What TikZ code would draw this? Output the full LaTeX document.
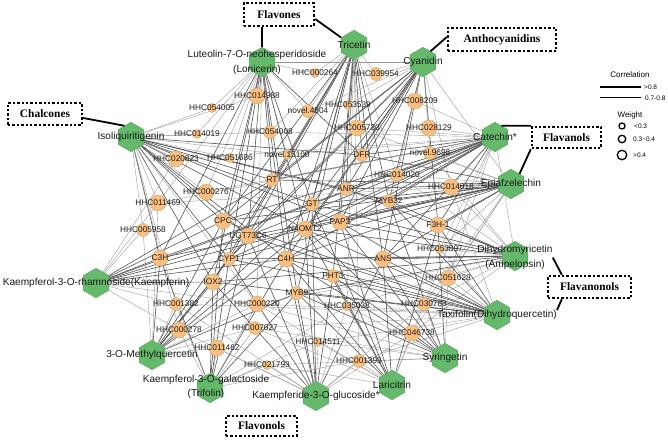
\documentclass[tikz,border=0pt]{standalone}
\usepackage{fontspec}
\setmainfont{Liberation Sans}
\newfontfamily\boxfont{Liberation Serif}
\usetikzlibrary{shapes.geometric,backgrounds}
\definecolor{hexg}{RGB}{100,186,106}
\definecolor{hexd}{RGB}{84,165,92}
\definecolor{orgf}{RGB}{250,190,128}
\definecolor{orgd}{RGB}{185,175,125}
\definecolor{edgel}{RGB}{150,150,150}
\definecolor{edged}{RGB}{85,85,85}
\begin{document}
\begin{tikzpicture}[x=1pt,y=-1pt,
  hex/.style={regular polygon, regular polygon sides=6, shape border rotate=30, minimum size=29.5pt, inner sep=0pt, fill=hexg, draw=hexd, line width=0.4pt},
  gl/.style={font=\fontsize{10.1}{12}\selectfont, inner sep=0pt, text=black!90},
  gl2/.style={font=\fontsize{10.1}{14.5}\selectfont, inner sep=0pt, text=black!90, align=center},
  orb/.style={circle, fill=orgf, draw=orgd, line width=0.4pt, inner sep=0pt},
  os/.style={orb, minimum size=9pt},
  om/.style={orb, minimum size=13pt},
  ol/.style={orb, minimum size=16pt},
  lo/.style={font=\fontsize{8.3}{10}\selectfont, inner sep=0pt, text=black!88},
  le/.style={draw=edgel, line width=0.35pt},
  de/.style={draw=edged, line width=0.6pt},
  catbox/.style={draw=black, line width=2.4pt, dash pattern=on 2.4pt off 2pt, font=\boxfont\bfseries\fontsize{11.4}{13}\selectfont, inner sep=0pt},
  conn/.style={draw=black, line width=1.8pt},
  lgt/.style={font=\fontsize{8}{9}\selectfont, inner sep=0pt},
  lgs/.style={font=\fontsize{6.5}{8}\selectfont, inner sep=0pt, anchor=west},
  wc/.style={circle, draw=black, line width=1.3pt, inner sep=0pt}
]
\useasboundingbox (0,0) rectangle (668,442);

% ---------- orange nodes ----------
\node[os, label={[lo]center:HHC000264}] (h264) at (315,73) {};
\node[om, label={[lo]center:HHC039954}] (h39954) at (376,74) {};
\node[ol, label={[lo]center:HHC014988}] (h14988) at (257,96) {};
\node[os, label={[lo]center:HHC054005}] (h54005) at (212,108) {};
\node[om, label={[lo]center:novel.4804}] (n4804) at (308,111) {};
\node[os, label={[lo]center:HHC053539}] (h53539) at (348,105) {};
\node[ol, label={[lo]center:HHC008209}] (h8209) at (415,101) {};
\node[os, label={[lo]center:HHC014019}] (h14019) at (197,134) {};
\node[om, label={[lo]center:HHC054008}] (h54008) at (270,132) {};
\node[ol, label={[lo]center:HHC005730}] (h5730) at (357,128) {};
\node[ol, label={[lo]center:HHC028129}] (h28129) at (429,128) {};
\node[ol, label={[lo]center:HHC020823}] (h20823) at (176,159) {};
\node[os, label={[lo]center:HHC051686}] (h51686) at (230,158) {};
\node[os, label={[lo]center:novel.15100}] (n15100) at (287,155) {};
\node[om, label={[lo]center:DFR}] (DFR) at (362,155) {};
\node[om, label={[lo]center:novel.9698}] (n9698) at (430,153) {};
\node[ol, label={[lo]center:HHC000276}] (h276) at (206,192) {};
\node[om, label={[lo]center:RT}] (RT) at (272,180) {};
\node[om, label={[lo]center:HHC014020}] (h14020) at (397,175) {};
\node[ol, label={[lo]center:HHC014018}] (h14018) at (451,187) {};
\node[ol, label={[lo]center:HHC011469}] (h11469) at (158,203) {};
\node[om, label={[lo]center:ANR}] (ANR) at (346,189) {};
\node[om, label={[lo]center:GT}] (GT) at (312,204) {};
\node[om, label={[lo]center:MYB32}] (MYB32) at (389,201) {};
\node[ol, label={[lo]center:F3H-1}] (F3H) at (438,225) {};
\node[om, label={[lo]center:HHC005958}] (h5958) at (143,230) {};
\node[ol, label={[lo]center:CPC}] (CPC) at (223,221) {};
\node[ol, label={[lo]center:UGT73C6}] (UGT) at (248,236) {};
\node[ol, label={[lo]center:N4OMT2}] (N4OMT) at (305,229) {};
\node[ol, label={[lo]center:PAP3}] (PAP3) at (340,222) {};
\node[os, label={[lo]center:HHC053897}] (h53897) at (440,249) {};
\node[ol, label={[lo]center:C3H}] (C3H) at (160,258) {};
\node[om, label={[lo]center:CYP1}] (CYP1) at (229,259) {};
\node[ol, label={[lo]center:C4H}] (C4H) at (286,259) {};
\node[ol, label={[lo]center:ANS}] (ANS) at (383,259) {};
\node[ol, label={[lo]center:HHC051628}] (h51628) at (448,278) {};
\node[ol, label={[lo]center:IOX2}] (IOX2) at (213,282) {};
\node[om, label={[lo]center:PHT3}] (PHT3) at (333,276) {};
\node[om, label={[lo]center:HHC001382}] (h1382) at (176,304) {};
\node[ol, label={[lo]center:HHC000220}] (h220) at (257,304) {};
\node[om, label={[lo]center:MYB9}] (MYB9) at (297,293) {};
\node[os, label={[lo]center:HHC035038}] (h35038) at (347,306) {};
\node[om, label={[lo]center:HHC030783}] (h30783) at (424,304) {};
\node[ol, label={[lo]center:HHC000278}] (h278) at (179,330) {};
\node[om, label={[lo]center:HHC007027}] (h7027) at (255,328) {};
\node[ol, label={[lo]center:HHC046738}] (h46738) at (412,333) {};
\node[ol, label={[lo]center:HHC011462}] (h11462) at (217,348) {};
\node[os, label={[lo]center:HHC014511}] (h14511) at (318,342) {};
\node[os, label={[lo]center:HHC021793}] (h21793) at (267,365) {};
\node[om, label={[lo]center:HHC001393}] (h1393) at (359,361) {};

% ---------- green nodes ----------
\node[hex, label={[gl]center:Tricetin}] (tri) at (354,45) {};
\node[hex] (lon) at (262,62) {};
\node[gl2] (lonl) at (257,62.5) {Luteolin-7-O-neohesperidoside\\(Lonicerin)};
\node[hex, label={[gl]center:Cyanidin}] (cya) at (423,62) {};
\node[hex, label={[gl]center:Isoliquiritigenin}] (iso) at (131,137) {};
\node[hex, label={[gl]center:Catechin*}] (cat) at (495,137) {};
\node[hex, label={[gl]center:Epiafzelechin}] (epi) at (511,184) {};
\node[hex] (dih) at (515,256) {};
\node[gl2] (dihl) at (515,257.5) {Dihydromyricetin\\(Ampelopsin)};
\node[hex, label={[gl,name=taxl]center:Taxifolin(Dihydroquercetin)}] (tax) at (497,315) {};
\node[hex, label={[gl]center:Syringetin}] (syr) at (445,358) {};
\node[hex, label={[gl]center:Laricitrin}] (lar) at (392,385) {};
\node[hex, label={[gl]center:Kaempferide-3-O-glucoside*}] (kgl) at (316,396) {};
\node[hex] (kga) at (210,388) {};
\node[gl2] (kgal) at (206,387) {Kaempferol-3-O-galactoside\\(Trifolin)};
\node[hex, label={[gl]center:3-O-Methylquercetin}] (mq) at (152,355) {};
\node[hex, label={[gl]center:Kaempferol-3-O-rhamnoside(Kaempferin)}] (kra) at (96,283) {};

% ---------- class boxes ----------
\node[catbox, minimum width=70pt, minimum height=23pt] (flvbox) at (279,14.5) {Flavones};
\node[catbox, minimum width=108pt, minimum height=23pt] (antbox) at (502,39.5) {Anthocyanidins};
\node[catbox, minimum width=74pt, minimum height=22pt] (chbox) at (45,114) {Chalcones};
\node[catbox, minimum width=69pt, minimum height=21pt] (fl3box) at (566.5,137.5) {Flavanols};
\node[catbox, minimum width=83pt, minimum height=22pt] (fnbox) at (589.5,287) {Flavanonols};
\node[catbox, minimum width=71pt, minimum height=20pt] (fvbox) at (261.5,426) {Flavonols};

\draw[conn] (flvbox.south -| lon) -- (lon.north);
\draw[conn] ([yshift=-4.5pt]flvbox.east) -- (tri.150);
\draw[conn] ([yshift=2.5pt]antbox.west) -- (cya.55);
\draw[conn] ([yshift=-4pt]chbox.east) -- (iso.120);
\draw[conn] (fl3box.north west) -- (cat.60);
\draw[conn] (fl3box.south west) -- (epi.50);
\draw[conn] (dihl.east) -- ([xshift=15pt]fnbox.north west);
\draw[conn] ([xshift=15pt]fnbox.south west) -- (taxl.north east);

% ---------- legend ----------
\node[lgt] (corr) at (630,75) {Correlation};
\coordinate (c1a) at (600,87); \coordinate (c1b) at (641,87);
\draw[line width=2.5pt] (c1a) -- (c1b);
\node[lgs] (c1l) at (644,87) {>0.8};
\coordinate (c2a) at (600,97.5); \coordinate (c2b) at (641,97.5);
\draw[line width=1pt] (c2a) -- (c2b);
\node[lgs] (c2l) at (645,98) {0.7-0.8};
\node[lgt] (wt) at (630,115) {Weight};
\node[wc, minimum size=6pt] (w1) at (622,126) {};
\node[lgs] (w1l) at (634,126) {<0.3};
\node[wc, minimum size=7.5pt] (w2) at (622,139) {};
\node[lgs] (w2l) at (633,139) {0.3\textasciitilde0.4};
\node[wc, minimum size=9.5pt] (w3) at (622,155) {};
\node[lgs] (w3l) at (633,155) {>0.4};

% ---------- edges ----------
\begin{scope}[on background layer]
\fill[white] (0,0) rectangle (668,442);
\foreach \o in {DFR,ANR,GT,PAP3,MYB32,N4OMT,C4H,ANS,RT,PHT3,MYB9,CPC,UGT,CYP1,IOX2} \draw[de] (tri) -- (\o);
\foreach \o in {h39954,h53539,h5730,n4804,h264,h35038,h1393,h14020,n15100,h54008} \draw[le] (tri) -- (\o);
\foreach \o in {RT,GT,CPC,UGT,C4H,CYP1,N4OMT,DFR,MYB9,IOX2,C3H} \draw[de] (lon) -- (\o);
\foreach \o in {h14988,h54005,h54008,n4804,h264,n15100,h276,h51686,h14019,h220,h11469,cya} \draw[le] (lon) -- (\o);
\foreach \o in {DFR,ANR,MYB32,PAP3,GT,RT,N4OMT,C4H,ANS,F3H,CPC,UGT,CYP1} \draw[de] (cya) -- (\o);
\foreach \o in {h8209,h28129,n9698,h14020,h5730,h53539,h14018,n4804,h39954,epi} \draw[le] (cya) -- (\o);
\foreach \o in {C3H,RT,CPC,UGT,CYP1,IOX2,GT,N4OMT,DFR,C4H,ANR,PAP3,MYB32} \draw[de] (iso) -- (\o);
\foreach \o in {h54005,h14019,h20823,h51686,h276,h11469,h5958,h1382,h278,h54008,n15100,h14988,h220} \draw[le] (iso) -- (\o);
\foreach \o in {DFR,ANR,MYB32,F3H,PAP3,GT,RT,N4OMT,CPC,UGT,C4H,ANS,CYP1,C3H} \draw[de] (cat) -- (\o);
\foreach \o in {h28129,n9698,h14018,h14020,h5730,h53897,h51628,h30783,n15100,h54008,h276,h8209,h11469,h20823,dih} \draw[le] (cat) -- (\o);
\foreach \o in {F3H,MYB32,ANR,DFR,PAP3,GT,N4OMT,CPC,C4H,CYP1,ANS,UGT,RT,C3H} \draw[de] (epi) -- (\o);
\foreach \o in {n9698,h14018,h14020,h53897,h51628,h11469,h30783,h46738,h5730} \draw[le] (epi) -- (\o);
\foreach \o in {F3H,ANS,MYB32,PAP3,N4OMT,C4H,CYP1,MYB9,IOX2,GT,ANR} \draw[de] (dih) -- (\o);
\foreach \o in {h53897,h51628,h14018,h14020,n9698,h30783,h46738,h35038,h220} \draw[le] (dih) -- (\o);
\foreach \o in {F3H,ANS,MYB32,PHT3,MYB9,IOX2,CYP1,C4H,N4OMT,PAP3,UGT,CPC} \draw[de] (tax) -- (\o);
\foreach \o in {h51628,h30783,h46738,h53897,h14018,h35038,h220,h1382,h1393,h14511,h7027} \draw[le] (tax) -- (\o);
\foreach \o in {ANS,F3H,PHT3,MYB9,C4H,N4OMT,PAP3,MYB32} \draw[de] (syr) -- (\o);
\foreach \o in {h46738,h30783,h1393,h14511,h51628,h35038,h7027,h220,h21793} \draw[le] (syr) -- (\o);
\foreach \o in {MYB9,PHT3,ANS,C4H,N4OMT,PAP3,GT,F3H} \draw[de] (lar) -- (\o);
\foreach \o in {h1393,h46738,h30783,h14511,h35038,h220,h7027,h21793} \draw[le] (lar) -- (\o);
\foreach \o in {MYB9,PHT3,C4H,IOX2,CYP1,ANS,N4OMT,UGT,GT} \draw[de] (kgl) -- (\o);
\foreach \o in {h14511,h21793,h1393,h7027,h220,h35038,h11462,h278,h1382,h30783,h46738} \draw[le] (kgl) -- (\o);
\foreach \o in {IOX2,CYP1,C3H,UGT,CPC,C4H,MYB9} \draw[de] (kga) -- (\o);
\foreach \o in {h11462,h7027,h278,h1382,h220,h21793,h14511,h35038,h1393} \draw[le] (kga) -- (\o);
\foreach \o in {IOX2,C3H,CYP1,UGT,CPC,C4H,MYB9,N4OMT,RT,GT} \draw[de] (mq) -- (\o);
\foreach \o in {h278,h1382,h11462,h7027,h220,h5958,h11469} \draw[le] (mq) -- (\o);
\foreach \o in {C3H,IOX2,CYP1,CPC,UGT,C4H,GT,N4OMT,RT} \draw[de] (kra) -- (\o);
\foreach \o in {h5958,h1382,h278,h11469,h20823,h220} \draw[le] (kra) -- (\o);
\end{scope}
\end{tikzpicture}
\end{document}
